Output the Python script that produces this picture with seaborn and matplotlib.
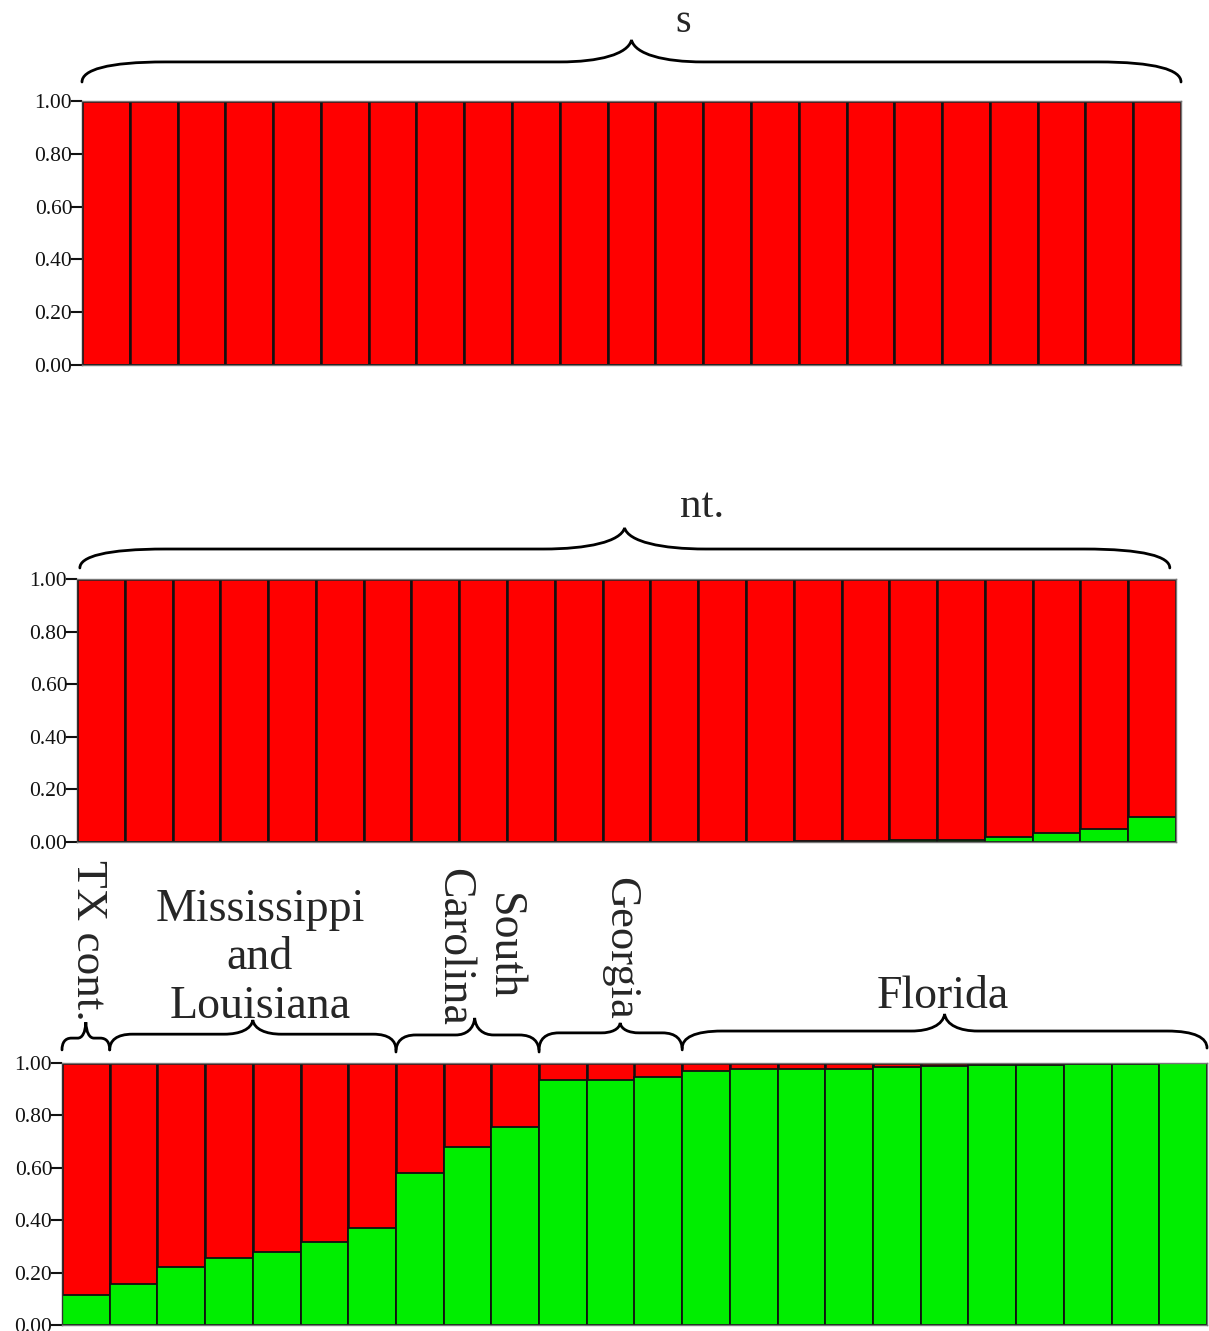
import numpy as np
import pandas as pd
import matplotlib
matplotlib.use("Agg")
import matplotlib.pyplot as plt
from matplotlib.path import Path
from matplotlib.patches import PathPatch
import seaborn as sns

sns.set_theme(style="white")
plt.rcParams['font.family'] = ['Liberation Serif', 'DejaVu Serif']

# ---------------- data ----------------
panel1_green = [0.0] * 23
panel2_green = [0.0] * 15 + [0.003, 0.003, 0.007, 0.007, 0.018, 0.033, 0.048, 0.095]
panel3_green = [0.114, 0.158, 0.223, 0.256, 0.280, 0.315, 0.371,
                0.582, 0.680, 0.756,
                0.935, 0.935, 0.945,
                0.968, 0.977, 0.977, 0.977, 0.985, 0.990, 0.993, 0.993, 0.997, 0.998, 0.999]
panel1_title = "s"
panel2_title = "nt."
group_labels = ["TX cont.", "Mississippi\nand\nLouisiana", "South\nCarolina", "Georgia", "Florida"]
group_sizes = [1, 6, 3, 3, 11]
ytick_values = [0.0, 0.2, 0.4, 0.6, 0.8, 1.0]
ytick_labels = ["0.00", "0.20", "0.40", "0.60", "0.80", "1.00"]

RED = "#FF0000"
GREEN = "#00EE00"

W, H = 1209, 1331
fig = plt.figure(figsize=(W / 100, H / 100), dpi=100)


def axes_px(left, right, top, bottom):
    return fig.add_axes([left / W, 1 - bottom / H, (right - left) / W, (bottom - top) / H])


def draw_panel(ax, green):
    n = len(green)
    df = pd.DataFrame({"ind": np.arange(n), "total": np.ones(n), "green": green})
    sns.barplot(data=df, x="ind", y="total", color=RED, saturation=1, width=1.0,
                edgecolor="#111111", linewidth=1.8, errorbar=None, ax=ax)
    sns.barplot(data=df, x="ind", y="green", color=GREEN, saturation=1, width=1.0,
                edgecolor="#111111", linewidth=1.3, errorbar=None, ax=ax)
    ax.set_xlim(-0.5, n - 0.5)
    ax.set_ylim(0, 1)
    ax.set_xlabel("")
    ax.set_ylabel("")
    ax.set_xticks([])
    ax.set_yticks(ytick_values)
    ax.set_yticklabels(ytick_labels)
    ax.tick_params(axis="y", direction="out", length=8, width=1.5, pad=-1,
                   labelsize=15.5, colors="#111111", left=True)
    for sp in ax.spines.values():
        sp.set_color("#777777")
        sp.set_linewidth(1.0)
    ax.spines["left"].set_color("#333333")


def brace(ax, x0, x1, xm, ye, yf, yp, re, rm, lw=2.0):
    verts = [
        (x0, ye),
        (x0, ye + 0.6 * (yf - ye)), (x0 + 0.3 * re, yf), (x0 + re, yf),
        (xm - rm, yf),
        (xm - 0.45 * rm, yf), (xm - 0.05 * rm, yf + 0.35 * (yp - yf)), (xm, yp),
        (xm + 0.05 * rm, yf + 0.35 * (yp - yf)), (xm + 0.45 * rm, yf), (xm + rm, yf),
        (x1 - re, yf),
        (x1 - 0.3 * re, yf), (x1, ye + 0.6 * (yf - ye)), (x1, ye),
    ]
    codes = ([Path.MOVETO] + [Path.CURVE4] * 3 + [Path.LINETO] + [Path.CURVE4] * 6
             + [Path.LINETO] + [Path.CURVE4] * 3)
    patch = PathPatch(Path(verts, codes), facecolor="none", edgecolor="black",
                      lw=lw, clip_on=False, capstyle="round")
    ax.add_patch(patch)


# ---------------- panel 1 ----------------
ax1 = axes_px(82, 1181, 101, 365)
draw_panel(ax1, panel1_green)
brace(ax1, -0.5, 22.5, 11.0, 1.072, 1.148, 1.231, 1.75, 1.5)
fig.text(683 / W, 1 - 22 / H, panel1_title, fontsize=29, ha="center", va="center")

# ---------------- panel 2 ----------------
ax2 = axes_px(77, 1176, 579, 842)
draw_panel(ax2, panel2_green)
brace(ax2, -0.44, 22.37, 10.96, 1.042, 1.114, 1.194, 1.8, 1.7)
fig.text(680 / W, 1 - 517 / H, panel2_title, fontsize=31, ha="left", va="baseline")

# ---------------- panel 3 ----------------
ax3 = axes_px(62, 1207, 1063, 1325)
draw_panel(ax3, panel3_green)
edges = np.concatenate([[0], np.cumsum(group_sizes)]) - 0.5
brace_params = [
    # xm, y_end, y_flat, y_peak, r_end, r_mid
    (0.0, 1.05, 1.095, 1.156, 0.2, 0.17),
    (3.5, 1.05, 1.11, 1.164, 0.48, 0.6),
    (8.15, 1.042, 1.107, 1.172, 0.42, 0.4),
    (11.2, 1.05, 1.115, 1.153, 0.42, 0.4),
    (18.0, 1.057, 1.122, 1.187, 0.84, 0.7),
]
for i, (xm, ye, yf, yp, re, rm) in enumerate(brace_params):
    brace(ax3, edges[i], edges[i + 1], xm, ye, yf, yp, re, rm)

# group labels (figure pixel positions)
fig.text(88 / W, 1 - 940 / H, group_labels[0], fontsize=32.5, rotation=270,
         ha="center", va="center")
fig.text(260 / W, 1 - 958 / H, group_labels[1], fontsize=33, ha="center",
         va="center", multialignment="center", linespacing=1.18)
fig.text(478 / W, 1 - 947 / H, group_labels[2], fontsize=33, rotation=270,
         ha="center", va="center", multialignment="center", linespacing=1.22)
fig.text(620 / W, 1 - 948 / H, group_labels[3], fontsize=32, rotation=270,
         ha="center", va="center")
fig.text(943 / W, 1 - 997 / H, group_labels[4], fontsize=33, ha="center",
         va="center")

fig.savefig("out.png", dpi=100, facecolor="white")
